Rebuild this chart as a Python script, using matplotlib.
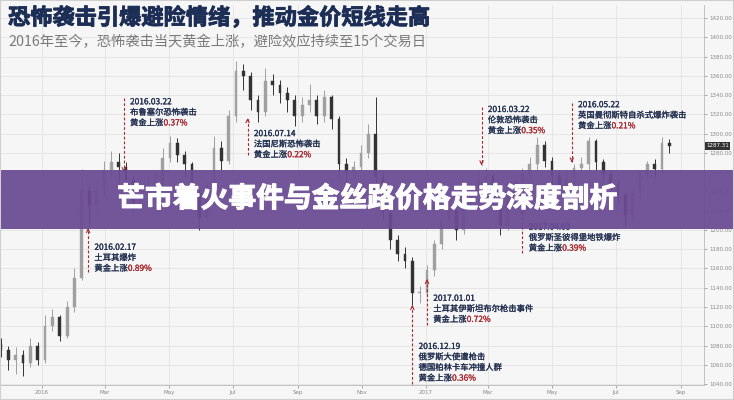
import matplotlib
matplotlib.use('Agg')
import matplotlib.pyplot as plt
import matplotlib.dates as mdates
import matplotlib.patheffects as pe
import numpy as np
import pandas as pd

plt.rcParams['font.family'] = ['Noto Sans CJK SC', 'DejaVu Sans']

# weekly candles
week_start = '2015-11-23'
first_open = 1082
closes = [1075, 1065, 1070, 1062, 1080, 1065, 1100, 1110, 1090, 1120,
          1150, 1240, 1225, 1240, 1262, 1270, 1265, 1252, 1230, 1238,
          1245, 1248, 1275, 1290, 1278, 1268, 1238, 1212, 1245, 1285,
          1272, 1318, 1365, 1360, 1335, 1322, 1355, 1350, 1342, 1335,
          1318, 1330, 1335, 1318, 1338, 1315, 1268, 1260, 1265, 1280,
          1300, 1255, 1218, 1190, 1175, 1168, 1134, 1135, 1158, 1185,
          1210, 1220, 1200, 1225, 1243, 1252, 1255, 1230, 1205, 1234,
          1250, 1258, 1268, 1288, 1272, 1256, 1246, 1254, 1264, 1268,
          1292, 1270, 1258, 1248, 1236, 1215, 1238, 1258, 1268, 1263,
          1290, 1287.31]
highs = [1088, 1080, 1078, 1075, 1088, 1084, 1112, 1118, 1112, 1126,
         1160, 1263, 1248, 1252, 1272, 1282, 1280, 1270, 1256, 1248,
         1255, 1262, 1285, 1298, 1295, 1282, 1270, 1242, 1250, 1298,
         1292, 1325, 1375, 1372, 1364, 1340, 1368, 1362, 1356, 1348,
         1340, 1338, 1352, 1340, 1345, 1340, 1318, 1275, 1272, 1288,
         1310, 1338, 1260, 1222, 1195, 1182, 1172, 1142, 1164, 1190,
         1218, 1225, 1222, 1232, 1250, 1262, 1264, 1258, 1234, 1240,
         1258, 1264, 1276, 1296, 1292, 1276, 1260, 1260, 1268, 1276,
         1296, 1294, 1274, 1262, 1252, 1238, 1244, 1262, 1272, 1274,
         1296, 1294]
lows = [1068, 1055, 1050, 1048, 1058, 1060, 1062, 1095, 1085, 1088,
        1115, 1148, 1205, 1215, 1235, 1255, 1250, 1240, 1218, 1222,
        1232, 1236, 1244, 1270, 1270, 1255, 1232, 1200, 1208, 1240,
        1262, 1268, 1312, 1345, 1325, 1312, 1318, 1340, 1332, 1322,
        1308, 1312, 1322, 1310, 1312, 1305, 1255, 1248, 1252, 1260,
        1275, 1250, 1210, 1180, 1168, 1160, 1122, 1124, 1130, 1152,
        1180, 1202, 1190, 1196, 1220, 1238, 1244, 1222, 1195, 1200,
        1228, 1245, 1252, 1262, 1265, 1248, 1238, 1240, 1248, 1258,
        1262, 1262, 1250, 1240, 1228, 1204, 1210, 1232, 1252, 1255,
        1258, 1280]

price_ticks = list(range(1040, 1421, 20))
month_ticks = ['2016-01-01', '2016-03-01', '2016-05-01', '2016-07-01', '2016-09-01',
               '2016-11-01', '2017-01-01', '2017-03-01', '2017-05-01', '2017-07-01',
               '2017-09-01']
month_labels = ['2016', 'Mar', 'May', 'Jul', 'Sep', 'Nov', '2017', 'Mar', 'May', 'Jul', 'Sep']

title = '恐怖袭击引爆避险情绪，推动金价短线走高'
subtitle = '2016年至今，恐怖袭击当天黄金上涨，避险效应持续至15个交易日'
banner = '芒市着火事件与金丝路价格走势深度剖析'

# event date, arrow tip, arrow tail, first text line price, text lines, rise
events = [
    ('2016-02-14', 1202, 1156, 1182, ['2016.02.17', '土耳其爆炸'], '0.89%'),
    ('2016-03-19', 1260, 1337, 1333, ['2016.03.22', '布鲁塞尔恐怖袭击'], '0.37%'),
    ('2016-07-15', 1316, 1278, 1300, ['2016.07.14', '法国尼斯恐怖袭击'], '0.22%'),
    ('2016-12-19', 1122, 1040, 1079, ['2016.12.19', '俄罗斯大使遭枪击', '德国柏林卡车冲撞人群'], '0.36%'),
    ('2017-01-02', 1149, 1101, 1129, ['2017.01.01', '土耳其伊斯坦布尔枪击事件'], '0.72%'),
    ('2017-02-23', 1267, 1328, 1325, ['2016.03.22', '伦敦恐怖袭击'], '0.35%'),
    ('2017-04-03', 1222, 1176, 1203, ['2017.04.03', '俄罗斯圣彼得堡地铁爆炸'], '0.39%'),
    ('2017-05-20', 1270, 1332, 1330, ['2016.05.22', '英国曼彻斯特自杀式爆炸袭击'], '0.21%'),
]

RED = '#a8262c'
NAVY = '#1d2b4c'


def thick(color, w):
    return [pe.withStroke(linewidth=w, foreground=color)]


def draw_candles(ax):
    dates = pd.date_range(week_start, periods=len(closes), freq='7D')
    x = mdates.date2num(dates)
    opens = [first_open] + closes[:-1]
    for xi, o, h, l, c in zip(x, opens, highs, lows, closes):
        col = '#a0a0a0' if c >= o else '#333333'
        ax.vlines(xi, l, h, color=col, lw=0.7, zorder=3)
        ax.bar(xi, max(abs(c - o), 1.2), bottom=min(o, c), width=2.6, color=col,
               edgecolor=col, lw=0.3, zorder=4)


def draw_events(ax):
    for d, tip, tail, ytxt, lines, rise in events:
        xd = mdates.datestr2num(d)
        ax.plot([xd, xd], [tail, tip], color=RED, lw=0.8, ls=(0, (2.5, 1.8)), zorder=6)
        step = 2.5 if tip > tail else -2.5
        ax.annotate('', xy=(xd, tip), xytext=(xd, tip - step),
                    arrowprops=dict(arrowstyle='->', color=RED, lw=0.8, mutation_scale=6),
                    zorder=6)
        lines = lines + ['黄金上涨']
        for i, s in enumerate(lines):
            t = ax.annotate(s, xy=(xd, ytxt), xytext=(4.5, -i * 7.6), textcoords='offset points',
                            fontsize=6, color=NAVY, va='center', ha='left', zorder=7,
                            path_effects=thick(NAVY, 0.15))
        ax.annotate(rise, xy=(1, 0.5), xycoords=t, va='center', ha='left',
                    fontsize=6, color=RED, zorder=7, path_effects=thick(RED, 0.15))


def make_chart():
    fig = plt.figure(figsize=(7.34, 4.0), dpi=100, facecolor='#f6f6f6')
    ax = fig.add_axes([0.0, 15 / 400, 704 / 734, 380 / 400])
    ax.set_facecolor('#f6f6f6')

    draw_candles(ax)
    draw_events(ax)

    ax.set_ylim(1039, 1433.5)
    ax.set_xlim(mdates.datestr2num('2015-11-22'), mdates.datestr2num('2017-09-23'))
    ax.yaxis.tick_right()
    ax.set_yticks(price_ticks)
    ax.set_yticklabels(['%.2f' % p for p in price_ticks])
    ax.set_xticks(mdates.datestr2num(month_ticks))
    ax.set_xticklabels(month_labels)
    ax.tick_params(axis='both', labelsize=4.0, colors='#888888', length=2, width=0.5, pad=1.5)
    for lab in ax.get_xticklabels() + ax.get_yticklabels():
        lab.set_family('DejaVu Sans')
    ax.grid(True, color='#e4e4e4', lw=0.6)
    ax.set_axisbelow(True)
    for s in ['left', 'top']:
        ax.spines[s].set_visible(False)
    for s in ['right', 'bottom']:
        ax.spines[s].set_color('#bbbbbb')
        ax.spines[s].set_linewidth(0.6)

    ax.annotate('%.2f' % closes[-1], xy=(1, closes[-1]), xycoords=('axes fraction', 'data'),
                xytext=(1.5, 0), textcoords='offset points', fontsize=4.0, color='white',
                va='center', ha='left', family='DejaVu Sans',
                bbox=dict(boxstyle='square,pad=0.25', fc='#333333', ec='none'))

    fig.text(8 / 734, 1 - 18 / 400, title, fontsize=16, fontweight='bold', color='#1c2e56',
             va='center', ha='left', path_effects=thick('#1c2e56', 0.6))
    fig.text(8 / 734, 1 - 42 / 400, subtitle, fontsize=10.3, color='#7a7a7a',
             va='center', ha='left')

    fig.patches.append(plt.Rectangle((0, 1 - 229 / 400), 1, 59 / 400, transform=fig.transFigure,
                                     facecolor='#6b4b93', alpha=0.94, zorder=20))
    fig.text(0.5, 1 - 199 / 400, banner, fontsize=20, fontweight='bold', color='white',
             va='center', ha='center', zorder=21, path_effects=thick('white', 0.8))
    fig.patches.append(plt.Rectangle((0, 0), 1, 1, transform=fig.transFigure, fill=False,
                                     edgecolor='#cfcfcf', lw=1.5, zorder=22))

    fig.savefig('out.png', dpi=100, facecolor=fig.get_facecolor())


if __name__ == '__main__':
    make_chart()
